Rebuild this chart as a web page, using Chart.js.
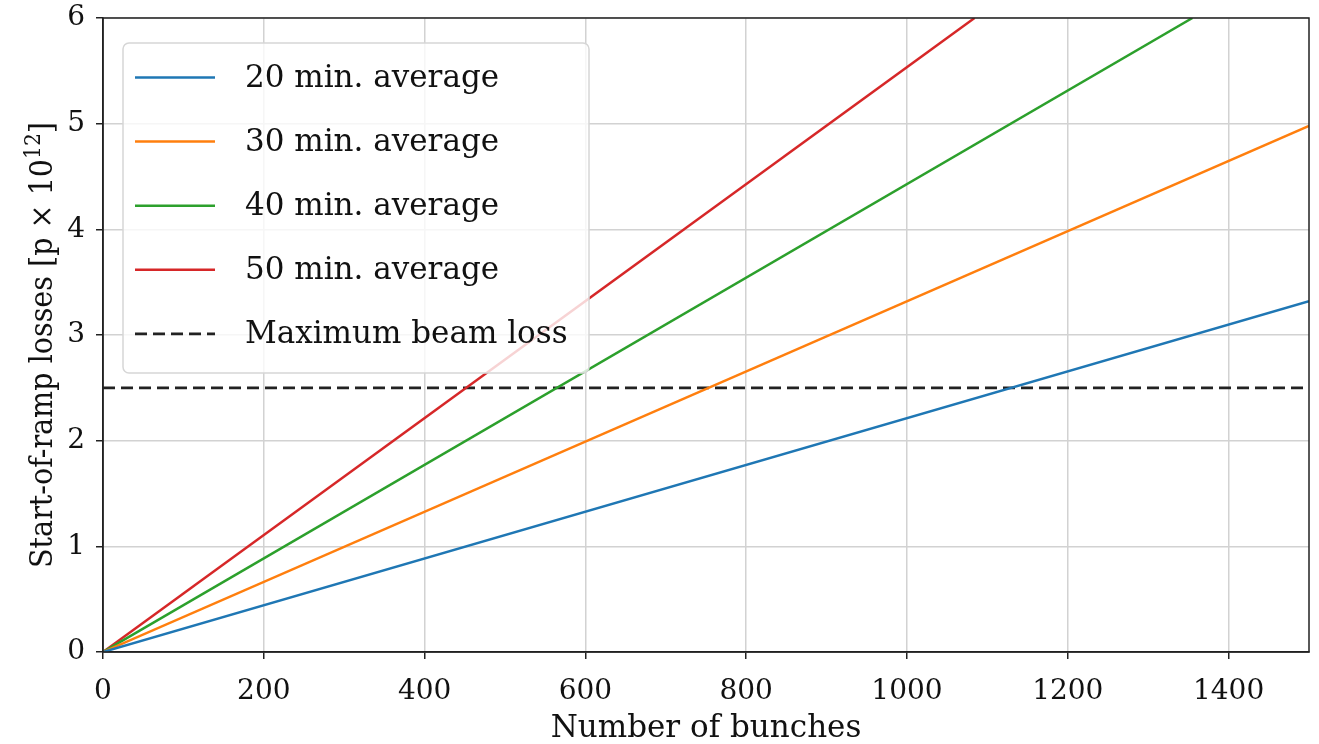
<!DOCTYPE html>
<html><head><meta charset="utf-8">
<script src="https://cdn.jsdelivr.net/npm/chart.js@4/dist/chart.umd.min.js"></script>
<style>html,body{margin:0;padding:0;background:#fff}</style>
</head><body>
<canvas id="c" width="1319" height="744"></canvas>
<script>
const seriesLabels = ['20 min. average', '30 min. average', '40 min. average', '50 min. average', 'Maximum beam loss'];
const seriesColors = ['#1f77b4', '#ff7f0e', '#2ca02c', '#d62728', '#222222'];
const x20 = [0, 1500], y20 = [0, 3.32];
const x30 = [0, 1500], y30 = [0, 4.98];
const x40 = [0, 1355], y40 = [0, 6];
const x50 = [0, 1084], y50 = [0, 6];
const xLimit = [0, 1500], yLimit = [2.5, 2.5];
const xTicks = [0, 200, 400, 600, 800, 1000, 1200, 1400];
const yTicks = [0, 1, 2, 3, 4, 5, 6];
const xTitle = 'Number of bunches';
const yTitleMain = 'Start-of-ramp losses [p \u00d7 10';
const yTitleSup = '12';
const yTitleEnd = ']';

const FONT = "'DejaVu Serif', serif";
const pts = (xs, ys) => xs.map((x, i) => ({x: x, y: ys[i]}));
const seriesX = [x20, x30, x40, x50, xLimit];
const seriesY = [y20, y30, y40, y50, yLimit];

const datasets = seriesLabels.map((lab, i) => ({
  label: lab,
  data: pts(seriesX[i], seriesY[i]),
  borderColor: seriesColors[i],
  backgroundColor: seriesColors[i],
  borderWidth: i === 4 ? 2.6 : 2.5,
  borderDash: i === 4 ? [12, 6] : [],
  pointRadius: 0,
  fill: false,
  tension: 0
}));

const framePlugin = {
  id: 'frame',
  afterDatasetsDraw(chart) {
    const a = chart.chartArea, ctx = chart.ctx;
    ctx.save();
    ctx.strokeStyle = '#222';
    ctx.lineWidth = 1.5;
    ctx.strokeRect(a.left, a.top, a.right - a.left, a.bottom - a.top);
    ctx.restore();
  }
};

const yTitlePlugin = {
  id: 'ytitle',
  afterDraw(chart) {
    const ctx = chart.ctx;
    const main = "31px " + FONT, sup = "22px " + FONT;
    ctx.save();
    ctx.fillStyle = '#111';
    ctx.font = main;
    const w1 = ctx.measureText(yTitleMain).width;
    const w3 = ctx.measureText(yTitleEnd).width;
    ctx.font = sup;
    const w2 = ctx.measureText(yTitleSup).width;
    const W = w1 + w2 + w3;
    const target = 446;
    ctx.translate(52, 345);
    ctx.rotate(-Math.PI / 2);
    ctx.scale(target / W, 1);
    ctx.textBaseline = 'alphabetic';
    ctx.textAlign = 'left';
    let x = -W / 2;
    ctx.font = main; ctx.fillText(yTitleMain, x, 0); x += w1;
    ctx.font = sup; ctx.fillText(yTitleSup, x, -12); x += w2;
    ctx.font = main; ctx.fillText(yTitleEnd, x, 0);
    ctx.restore();
  }
};

const legendPlugin = {
  id: 'boxlegend',
  afterDraw(chart) {
    const ctx = chart.ctx;
    const bx = 123, by = 43, bw = 466, bh = 330, r = 6;
    ctx.save();
    ctx.beginPath();
    ctx.moveTo(bx + r, by);
    ctx.arcTo(bx + bw, by, bx + bw, by + bh, r);
    ctx.arcTo(bx + bw, by + bh, bx, by + bh, r);
    ctx.arcTo(bx, by + bh, bx, by, r);
    ctx.arcTo(bx, by, bx + bw, by, r);
    ctx.closePath();
    ctx.fillStyle = 'rgba(255,255,255,0.8)';
    ctx.fill();
    ctx.strokeStyle = '#d6d6d6';
    ctx.lineWidth = 1.5;
    ctx.stroke();
    ctx.font = "31px " + FONT;
    ctx.textBaseline = 'middle';
    ctx.textAlign = 'left';
    chart.data.datasets.forEach((ds, i) => {
      const y = 77.5 + i * 64.1;
      ctx.beginPath();
      ctx.setLineDash(ds.borderDash || []);
      ctx.strokeStyle = ds.borderColor;
      ctx.lineWidth = ds.borderWidth;
      ctx.moveTo(135, y);
      ctx.lineTo(215, y);
      ctx.stroke();
      ctx.setLineDash([]);
      ctx.fillStyle = '#111';
      ctx.fillText(ds.label, 245, y + 1);
    });
    ctx.restore();
  }
};

new Chart(document.getElementById('c'), {
  type: 'line',
  data: { datasets: datasets },
  options: {
    responsive: false,
    devicePixelRatio: 1,
    animation: false,
    layout: { padding: { top: 18, right: 10, left: 0, bottom: 0 } },
    plugins: { legend: { display: false }, tooltip: { enabled: false } },
    scales: {
      x: {
        type: 'linear', min: 0, max: 1500,
        afterBuildTicks: s => { s.ticks = xTicks.map(v => ({value: v})); },
        afterFit: s => { s.height = 92; s.paddingLeft = 0; s.paddingRight = 0; },
        grid: { color: '#d2d2d2', lineWidth: 1.5, tickColor: '#222', tickLength: 7, tickWidth: 1.5 },
        border: { display: true, color: '#222', width: 1.5 },
        ticks: { font: { family: FONT, size: 28 }, color: '#111', padding: 16, maxRotation: 0, callback: v => String(v) },
        title: { display: true, text: xTitle, font: { family: FONT, size: 31, lineHeight: 1.0 }, color: '#111', padding: { top: 0, bottom: 0 } }
      },
      y: {
        type: 'linear', min: 0, max: 6,
        afterBuildTicks: s => { s.ticks = yTicks.map(v => ({value: v})); },
        afterFit: s => { s.width = 103; s.paddingTop = 0; s.paddingBottom = 0; },
        grid: { color: '#d2d2d2', lineWidth: 1.5, tickColor: '#222', tickLength: 7, tickWidth: 1.5 },
        border: { display: true, color: '#222', width: 1.5 },
        ticks: { font: { family: FONT, size: 28 }, color: '#111', padding: 11, callback: v => String(v) }
      }
    }
  },
  plugins: [framePlugin, yTitlePlugin, legendPlugin]
});
</script>
</body></html>
